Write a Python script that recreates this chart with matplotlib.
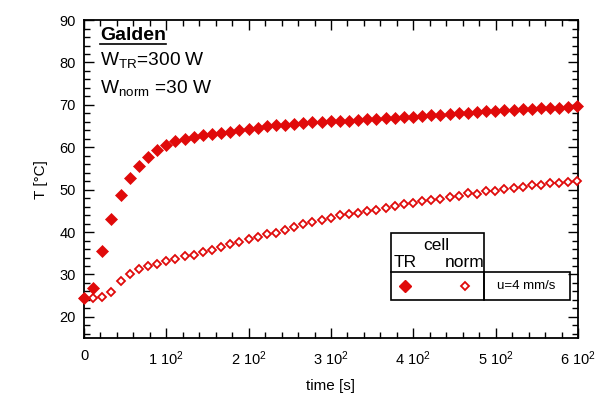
import matplotlib
matplotlib.use("Agg")
import matplotlib.pyplot as plt
from matplotlib.lines import Line2D
from matplotlib.patches import Rectangle
from matplotlib.ticker import MultipleLocator

plt.rcParams['font.family'] = ['Liberation Sans', 'DejaVu Sans']
plt.rcParams['mathtext.fontset'] = 'custom'
plt.rcParams['mathtext.rm'] = 'Liberation Sans'
plt.rcParams['mathtext.it'] = 'Liberation Sans'

# time [s] (sampling ~11.1 s)
time_s = [0, 11.1, 22.2, 33.3, 44.4, 55.5, 66.6, 77.7, 88.8, 99.9,
          111.0, 122.1, 133.2, 144.3, 155.4, 166.5, 177.6, 188.7, 199.8, 210.9,
          222.0, 233.1, 244.2, 255.3, 266.4, 277.5, 288.6, 299.7, 310.8, 321.9,
          333.0, 344.1, 355.2, 366.3, 377.4, 388.5, 399.6, 410.7, 421.8, 432.9,
          444.0, 455.1, 466.2, 477.3, 488.4, 499.5, 510.6, 521.7, 532.8, 543.9,
          555.0, 566.1, 577.2, 588.3, 599.4]

# cell TR (filled)
temp_tr = [24.5, 26.8, 35.5, 43.0, 48.8, 52.8, 55.6, 57.7, 59.3, 60.6,
           61.4, 62.0, 62.4, 62.8, 63.2, 63.4, 63.7, 64.0, 64.3, 64.6,
           65.0, 65.2, 65.3, 65.6, 65.7, 65.9, 66.0, 66.2, 66.3, 66.2,
           66.5, 66.6, 66.7, 66.8, 67.0, 67.2, 67.1, 67.3, 67.6, 67.7,
           67.9, 68.1, 68.0, 68.3, 68.5, 68.6, 68.7, 68.8, 69.0, 69.1,
           69.2, 69.3, 69.2, 69.4, 69.8]

# cell norm (open)
temp_norm = [24.5, 24.4, 24.6, 25.8, 28.4, 30.2, 31.4, 32.0, 32.5, 33.1,
             33.7, 34.3, 34.7, 35.3, 35.8, 36.5, 37.1, 37.7, 38.3, 38.9,
             39.5, 39.8, 40.6, 41.2, 41.8, 42.4, 42.8, 43.4, 44.0, 44.2,
             44.6, 45.0, 45.3, 45.7, 46.1, 46.6, 46.9, 47.3, 47.5, 47.9,
             48.3, 48.6, 49.1, 48.9, 49.6, 49.8, 50.2, 50.4, 50.7, 51.0,
             51.2, 51.5, 51.6, 51.8, 52.1]

x_ticks = [0, 100, 200, 300, 400, 500, 600]
x_labels = ['0', '1 10$^{2}$', '2 10$^{2}$', '3 10$^{2}$', '4 10$^{2}$', '5 10$^{2}$', '6 10$^{2}$']
y_ticks = [20, 30, 40, 50, 60, 70, 80, 90]

red = '#e00a0a'

fig = plt.figure(figsize=(5.98, 3.94), dpi=100)
ax = fig.add_axes([0.1405, 0.142, 0.826, 0.807])

ax.plot(time_s, temp_norm, linestyle='none', marker='D', ms=3.8,
        mfc='white', mec=red, mew=1.3, clip_on=False, zorder=3)
ax.plot(time_s, temp_tr, linestyle='none', marker='D', ms=6.3,
        mfc=red, mec=red, mew=0.5, clip_on=False, zorder=4)

ax.set_xlim(0, 600)
ax.set_ylim(15, 90)
ax.set_xticks(x_ticks)
ax.set_xticklabels(x_labels)
ax.set_yticks(y_ticks)
ax.xaxis.set_minor_locator(MultipleLocator(20))
ax.yaxis.set_minor_locator(MultipleLocator(2))
ax.tick_params(which='both', direction='in', top=True, right=True,
               labelsize=10.5, width=1.0)
ax.tick_params(axis='x', which='both', pad=8)
ax.tick_params(axis='y', which='both', pad=6)
ax.tick_params(which='major', length=7)
ax.tick_params(which='minor', length=4)
for sp in ax.spines.values():
    sp.set_linewidth(1.3)

ax.set_xlabel('time [s]', fontsize=11, labelpad=8)
ax.set_ylabel('T [°C]', fontsize=11, labelpad=8)

# annotation block
galden = ax.text(0.032, 0.953, 'Galden', transform=ax.transAxes, fontsize=14,
                 fontweight='bold', va='center', ha='left')
ax.text(0.032, 0.874, 'W$_{\\mathrm{TR}}$=300 W', transform=ax.transAxes,
        fontsize=13.8, va='center', ha='left')
ax.text(0.032, 0.785, 'W$_{\\mathrm{norm}}$ =30 W', transform=ax.transAxes,
        fontsize=13.8, va='center', ha='left')

# legend drawn as a small table
lw = 1.2
ax.add_patch(Rectangle((0.621, 0.119), 0.189, 0.210, transform=ax.transAxes,
                       fill=False, lw=lw, ec='black', zorder=5))
ax.add_patch(Rectangle((0.810, 0.119), 0.174, 0.088, transform=ax.transAxes,
                       fill=False, lw=lw, ec='black', zorder=5))
ax.add_line(Line2D([0.621, 0.810], [0.207, 0.207], transform=ax.transAxes,
                   lw=lw, color='black', zorder=5))
ax.text(0.714, 0.292, 'cell', transform=ax.transAxes, fontsize=12.5,
        ha='center', va='center')
ax.text(0.650, 0.237, 'TR', transform=ax.transAxes, fontsize=12.5,
        ha='center', va='center')
ax.text(0.771, 0.237, 'norm', transform=ax.transAxes, fontsize=12.5,
        ha='center', va='center')
ax.plot([0.650], [0.164], transform=ax.transAxes, marker='D', ms=6.3,
        mfc=red, mec=red, linestyle='none', zorder=6)
ax.plot([0.771], [0.164], transform=ax.transAxes, marker='D', ms=3.8,
        mfc='white', mec=red, mew=1.3, linestyle='none', zorder=6)
ax.text(0.896, 0.164, 'u=4 mm/s', transform=ax.transAxes, fontsize=9.5,
        ha='center', va='center')

# underline "Galden"
fig.canvas.draw()
bb = galden.get_window_extent().transformed(fig.transFigure.inverted())
fig.add_artist(Line2D([bb.x0, bb.x1], [bb.y0 - 0.002, bb.y0 - 0.002],
                      transform=fig.transFigure, lw=1.2, color='black'))

fig.savefig('out.png', dpi=100)
